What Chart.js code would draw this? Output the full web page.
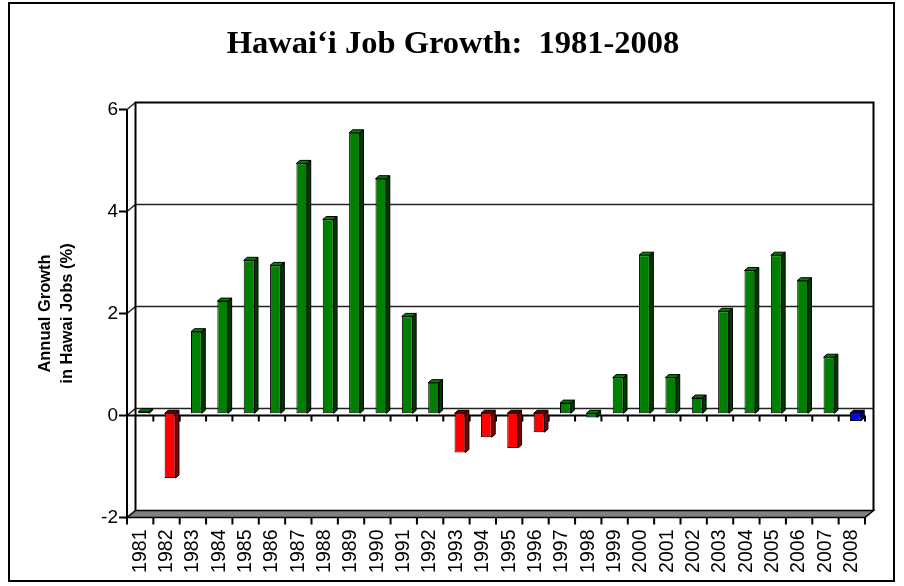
<!DOCTYPE html>
<html>
<head>
<meta charset="utf-8">
<script src="https://cdn.jsdelivr.net/npm/chart.js@4/dist/chart.umd.min.js"></script>
<style>
  html, body { margin: 0; padding: 0; background: #fff; }
  canvas { display: block; }
</style>
</head>
<body>
<canvas id="jobs" width="904" height="586"></canvas>
<script>
// Annual growth in Hawai'i jobs, percent
const years = ['1981', '1982', '1983', '1984', '1985', '1986', '1987', '1988', '1989', '1990',
               '1991', '1992', '1993', '1994', '1995', '1996', '1997', '1998', '1999', '2000',
               '2001', '2002', '2003', '2004', '2005', '2006', '2007', '2008'];
const growth = [0.03, -1.27, 1.6, 2.2, 3.0, 2.9, 4.9, 3.8, 5.5, 4.6,
                1.9, 0.6, -0.77, -0.47, -0.68, -0.37, 0.2, -0.08, 0.7, 3.1,
                0.7, 0.3, 2.0, 2.8, 3.1, 2.6, 1.1, -0.15];
const yTicks = [-2, 0, 2, 4, 6];
const forecastYear = '2008';
const chartTitle = 'Hawai\u2018i Job Growth:  1981-2008';
const axisTitle = ['Annual Growth', 'in Hawai Jobs (%)'];

// Pseudo-3D geometry (pixels): front plane -> back wall, and the bar block
const WALL = { x: 8.5, y: -7 };
const BAR_SHIFT = { x: 3.5, y: -2.2 };
const BAR_DEPTH = { x: 3.5, y: -3 };

const TONES = {
  growth:   { front: '#008000', top: '#008000', side: '#003c00' },
  decline:  { front: '#ff0000', top: '#700000', side: '#800000' },
  forecast: { front: '#0000ff', top: '#000070', side: '#000080' }
};
// small dips stay green; clear declines are red; the latest year is a forecast
const tones = years.map((yr, i) =>
  yr === forecastYear ? TONES.forecast : (growth[i] <= -0.2 ? TONES.decline : TONES.growth));

const frame3d = {
  id: 'frame3d',
  beforeDraw(chart) {
    const ctx = chart.ctx;
    ctx.save();
    ctx.fillStyle = '#fff';
    ctx.fillRect(0, 0, chart.width, chart.height);
    ctx.strokeStyle = '#000';
    ctx.lineWidth = 2;
    ctx.strokeRect(9, 3, 885, 578);
    // heading
    ctx.fillStyle = '#000';
    ctx.font = 'bold 32.5px "Liberation Serif", "Times New Roman", serif';
    ctx.textAlign = 'center';
    ctx.textBaseline = 'alphabetic';
    ctx.fillText(chartTitle, 453, 53);
    ctx.restore();
  },
  beforeDatasetsDraw(chart) {
    const { ctx, chartArea: a, scales: { x, y } } = chart;
    const dx = WALL.x, dy = WALL.y;
    ctx.save();
    // floor
    ctx.beginPath();
    ctx.moveTo(a.left, a.bottom);
    ctx.lineTo(a.right, a.bottom);
    ctx.lineTo(a.right + dx, a.bottom + dy);
    ctx.lineTo(a.left + dx, a.bottom + dy);
    ctx.closePath();
    ctx.fillStyle = '#808080';
    ctx.fill();
    ctx.strokeStyle = '#000';
    ctx.lineWidth = 1.5;
    ctx.stroke();
    // gridlines across the side wall and back wall
    ctx.strokeStyle = '#222';
    ctx.lineWidth = 1.5;
    yTicks.forEach(v => {
      const py = y.getPixelForValue(v);
      ctx.beginPath();
      ctx.moveTo(a.left, py);
      ctx.lineTo(a.left + dx, py + dy);
      if (v > y.min && v < y.max) ctx.lineTo(a.right + dx, py + dy);
      ctx.stroke();
    });
    // back wall outline
    ctx.strokeStyle = '#000';
    ctx.lineWidth = 2;
    ctx.beginPath();
    ctx.moveTo(a.left + dx, a.bottom + dy);
    ctx.lineTo(a.left + dx, a.top + dy);
    ctx.lineTo(a.right + dx, a.top + dy);
    ctx.lineTo(a.right + dx, a.bottom + dy);
    ctx.stroke();
    // value axis with tick marks
    ctx.beginPath();
    ctx.moveTo(a.left, a.top);
    ctx.lineTo(a.left, a.bottom);
    yTicks.forEach(v => {
      const py = y.getPixelForValue(v);
      ctx.moveTo(a.left - 8, py);
      ctx.lineTo(a.left, py);
    });
    ctx.stroke();
    // category axis at zero, ticks along it and along the floor edge
    const zero = y.getPixelForValue(0);
    ctx.beginPath();
    ctx.moveTo(a.left, zero);
    ctx.lineTo(a.right, zero);
    for (let i = 0; i <= years.length; i++) {
      const px = x.getPixelForValue(i - 0.5);
      ctx.moveTo(px, zero);
      ctx.lineTo(px, zero + 6);
      ctx.moveTo(px, a.bottom);
      ctx.lineTo(px, a.bottom + 7);
    }
    ctx.stroke();
    ctx.restore();
    // the bars stand a little behind the front plane
    ctx.save();
    ctx.translate(BAR_SHIFT.x, BAR_SHIFT.y);
  },
  afterDatasetsDraw(chart) {
    const ctx = chart.ctx;
    const meta = chart.getDatasetMeta(0);
    const bx = BAR_DEPTH.x, by = BAR_DEPTH.y;
    ctx.lineWidth = 1;
    ctx.strokeStyle = '#000';
    ctx.lineJoin = 'round';
    meta.data.forEach((bar, i) => {
      const { x, y, base, width } = bar.getProps(['x', 'y', 'base', 'width'], true);
      const l = x - width / 2, r = x + width / 2;
      const top = Math.min(y, base), bot = Math.max(y, base);
      const tone = tones[i];
      // top face
      ctx.beginPath();
      ctx.moveTo(l, top);
      ctx.lineTo(l + bx, top + by);
      ctx.lineTo(r + bx, top + by);
      ctx.lineTo(r, top);
      ctx.closePath();
      ctx.fillStyle = tone.top;
      ctx.fill();
      ctx.stroke();
      // right side face
      ctx.beginPath();
      ctx.moveTo(r, top);
      ctx.lineTo(r + bx, top + by);
      ctx.lineTo(r + bx, bot + by);
      ctx.lineTo(r, bot);
      ctx.closePath();
      ctx.fillStyle = tone.side;
      ctx.fill();
      ctx.stroke();
    });
    ctx.restore();
  }
};

new Chart(document.getElementById('jobs'), {
  type: 'bar',
  data: {
    labels: years,
    datasets: [{
      data: growth,
      backgroundColor: tones.map(t => t.front),
      borderColor: '#000',
      borderWidth: 1,
      borderSkipped: false,
      barPercentage: 0.41,
      categoryPercentage: 1,
      clip: false
    }]
  },
  options: {
    responsive: false,
    animation: false,
    devicePixelRatio: 1,
    layout: { padding: { left: 10, right: 39, top: 109.5, bottom: 0 } },
    plugins: {
      legend: { display: false },
      tooltip: { enabled: false },
      title: { display: false }
    },
    scales: {
      x: {
        grid: { display: false, drawTicks: false },
        border: { display: false },
        ticks: {
          autoSkip: false,
          minRotation: 90,
          maxRotation: 90,
          padding: 12,
          color: '#000',
          font: { family: 'Liberation Sans', size: 19.5 }
        },
        afterFit(scale) { scale.height = 68.5; }
      },
      y: {
        min: -2,
        max: 6,
        afterBuildTicks(scale) { scale.ticks = yTicks.map(v => ({ value: v })); },
        grid: { display: false, drawTicks: false },
        border: { display: false },
        ticks: {
          padding: 9,
          color: '#000',
          font: { family: 'Liberation Sans', size: 19 }
        },
        title: {
          display: true,
          text: axisTitle,
          color: '#000',
          font: { family: 'Liberation Sans', size: 16.5, weight: 'bold', lineHeight: 1.3 },
          padding: { top: 25, bottom: 0 }
        },
        afterFit(scale) { scale.width = 117; }
      }
    }
  },
  plugins: [frame3d]
});
</script>
</body>
</html>
